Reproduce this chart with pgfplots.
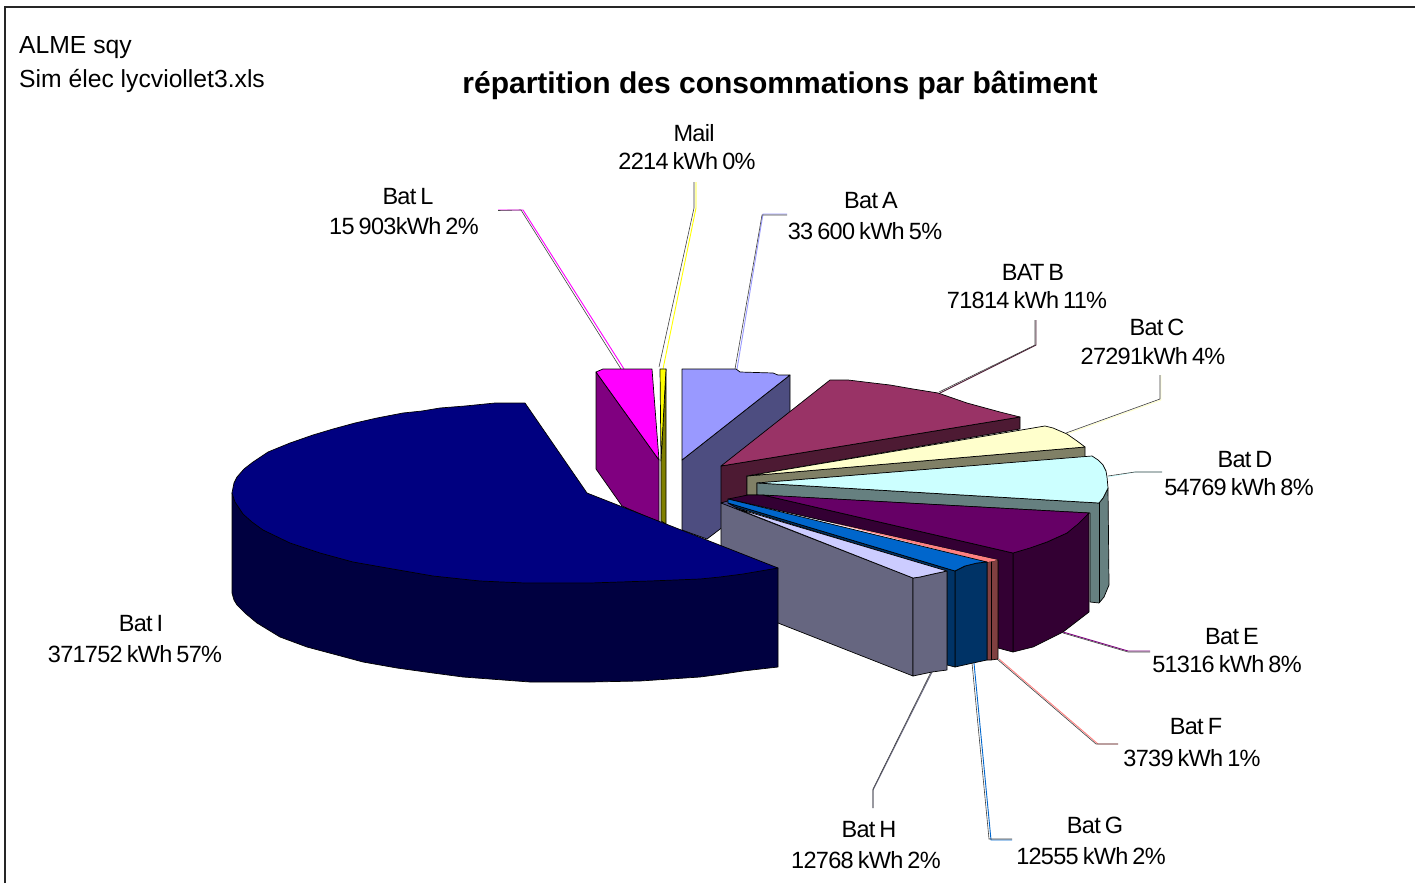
\documentclass[border=0pt]{standalone}
\usepackage{pgfplots}
\pgfplotsset{compat=1.18}
\usepackage{fontspec}
\setmainfont{Liberation Sans}
\newfontfamily\labfam[LetterSpace=-3,WordSpace=0.7]{Liberation Sans}
\newcommand\labfont{\fontsize{23.5}{28}\labfam}
\definecolor{iT}{HTML}{000080}\definecolor{iS}{HTML}{000040}
\definecolor{lT}{HTML}{FF00FF}\definecolor{lS}{HTML}{800080}
\definecolor{mT}{HTML}{FFFF00}\definecolor{mS}{HTML}{808000}
\definecolor{aT}{HTML}{9999FF}\definecolor{aS}{HTML}{4D4D80}
\definecolor{bT}{HTML}{993366}\definecolor{bS}{HTML}{4D1A33}
\definecolor{cT}{HTML}{FFFFCC}\definecolor{cS}{HTML}{808066}
\definecolor{dT}{HTML}{CCFFFF}\definecolor{dS}{HTML}{668080}
\definecolor{eT}{HTML}{660066}\definecolor{eS}{HTML}{330033}
\definecolor{fT}{HTML}{FF8080}\definecolor{fS}{HTML}{804040}
\definecolor{gT}{HTML}{0066CC}\definecolor{gS}{HTML}{003366}
\definecolor{hT}{HTML}{CCCCFF}\definecolor{hS}{HTML}{666680}
\newcommand\lab[3]{\node[anchor=base,inner sep=0pt,font=\labfont] at (axis cs:#1,#2) {#3};}
\newcommand\poly[2]{\addplot[draw=black,line width=0.7pt,fill=#1,line join=round] coordinates {#2} --cycle;}
\newcommand\lead[3]{\addplot[draw=#1,line width=0.9pt] coordinates {#2};\addplot[draw=black!75,line width=0.6pt] coordinates {#3};}
\begin{document}
\begin{tikzpicture}
\useasboundingbox (0,0) rectangle (1415pt,883pt);
\begin{axis}[at={(0,0)},anchor=south west,scale only axis,width=1415pt,height=883pt,
  xmin=0,xmax=1415,ymin=0,ymax=883,y dir=reverse,hide axis,clip=false]
% frame
\addplot[draw=black!85,line width=1.3pt] coordinates {(5,883) (5,7) (1415,7)};
% leaders
\lead{lT}{(624,369) (523,210) (498,210)}{(621,369) (521,210) (498,210.5)}
\lead{mT}{(663,369) (696,208) (696,182)}{(659,367) (694,208) (694,182)}
\lead{aT}{(737,369) (763,214) (787,214)}{(735,369) (762,215) (787,215)}
\lead{bS}{(940,393) (1036,345) (1036,320)}{(939,392) (1035,345) (1035,320)}
\lead{cT}{(1067,434) (1161,400) (1161,375)}{(1066,433) (1160,399) (1160,375)}
\lead{dT}{(1108,477) (1135,472) (1162,472)}{(1108,476) (1135,472) (1162,472)}
\lead{lS}{(1063,632) (1128,651) (1150,651)}{(1063,633) (1128,652) (1150,652)}
\lead{fT}{(999,659) (1098,744) (1118,744)}{(997,659) (1096,744) (1118,744)}
\lead{gT}{(974,663) (991,840) (1012,840)}{(972,663) (989,839) (1012,839)}
\lead{hS}{(932,672) (873,790) (873,808)}{(931,672) (873,789) (873,808)}
% Bat L
\poly{lS}{(596,372) (659,460) (659,522) (622,506) (596,469)}
\poly{lT}{(596,372) (603,369) (652,369) (659,460)}
% Mail
\poly{mS}{(666,369) (661,461) (661,521) (666,524)}
\poly{mT}{(660,369) (666,369) (661,461)}
% Bat A
\poly{aS}{(682,460) (790,375) (790,476) (707,539) (682,530)}
\poly{aT}{(682,369) (736,369) (740,372) (773,373) (778,375) (790,375) (682,460)}
% Bat B
\poly{bS}{(721,466) (1020,417) (1020,429) (747,476) (747,495) (721,503)}
\poly{bT}{(721,466) (830,380) (848,380) (873,383) (890,385) (913,389) (938,393) (967,403) (1000,412) (1020,417)}
% Bat C
\poly{cS}{(747,476) (1085,447) (1085,457) (757,483) (757,495) (747,495)}
\poly{cT}{(747,476) (1045,426) (1053,428) (1067,434) (1077,441) (1085,447)}
% Bat D
\poly{dS}{(757,483) (1099,503) (1103,498) (1108,488) (1109,585) (1104,597) (1099,603) (1090,602) (1090,513) (757,495)}
\addplot[draw=black,line width=0.7pt] coordinates {(1099,503) (1099,603)};
\poly{dT}{(757,483) (1092,456) (1098,460) (1103,465) (1106,471) (1107,477) (1108,488) (1103,498) (1099,503)}
% Bat E
\poly{eS}{(1013,553) (1047,542) (1067,533) (1089,513) (1089,612) (1063,632) (1033,647) (1013,652)}
\poly{eS}{(748,495) (763,495) (1013,553) (1013,652) (998,648) (998,560) (728,499)}
\poly{eT}{(763,495) (1089,513) (1078,524) (1067,533) (1047,542) (1030,548) (1013,553)}
% Bat F
\poly{fS}{(987,562) (998,560) (998,659) (991,660) (987,660)}
\addplot[draw=black,line width=0.7pt] coordinates {(991,561) (991,660)};
\addplot[draw=none,fill=fT] coordinates {(833,523) (998,560) (991,561.5) (987,562)} --cycle;
% Bat G
\poly{gS}{(955,571) (965,566) (977,563) (987,562) (987,660) (973,663) (955,667)}
\poly{gS}{(728,503) (955,571) (955,667) (947,665) (947,571.5) (735,507)}
\poly{gT}{(728,499) (987,562) (977,563) (965,566) (955,571) (728,503)}
% Bat H
\poly{hS}{(721,503) (913,578) (913,676) (778,623) (721,601)}
\poly{hS}{(913,578) (920,577) (933,574) (947,571) (947,670) (932,672) (913,676)}
\poly{hT}{(735,508) (947,571) (933,574) (920,577) (913,578)}
% Bat I
\poly{iS}{(232,493) (232,593) (234,600) (237,605) (245,613) (257,623) (280,637) (307,647) (337,655) (363,662) (397,668) (433,673) (463,677) (490,679) (530,682) (590,682) (640,681) (700,677) (723,674) (743,671) (778,667) (778,568) (500,575)}
\poly{iT}{(525,403) (495,403) (465,406) (440,408) (422,411) (403,413) (377,418) (355,423) (333,429) (313,435) (290,443) (268,452) (253,462) (244,469) (237,477) (234,483) (232,493) (235,502) (243,514) (252,522) (263,530) (290,543) (320,553) (353,562) (387,568) (433,576) (480,581) (525,583) (590,583) (650,581) (700,579) (720,577) (743,574) (778,568) (587,493)}
% texts
\node[anchor=base west,inner sep=0pt,font=\fontsize{24.7}{30}\selectfont] at (axis cs:19,54) {ALME sqy};
\node[anchor=base west,inner sep=0pt,font=\fontsize{24.7}{30}\selectfont] at (axis cs:19,87) {Sim élec lycviollet3.xls};
\node[anchor=base,inner sep=0pt,font=\fontsize{30}{36}\selectfont\bfseries] at (axis cs:780,93) {répartition des consommations par bâtiment};
\lab{694}{141}{Mail}\lab{687}{169}{2214 kWh 0\%}
\lab{408}{204}{Bat L}\lab{404}{234}{15 903kWh 2\%}
\lab{871}{208}{Bat A}\lab{865}{239}{33 600 kWh 5\%}
\lab{1033}{280}{BAT B}\lab{1027}{308}{71814 kWh 11\%}
\lab{1157}{335}{Bat C}\lab{1153}{364}{27291kWh 4\%}
\lab{1245}{467}{Bat D}\lab{1239}{495}{54769 kWh 8\%}
\lab{1232}{644}{Bat E}\lab{1227}{672}{51316 kWh 8\%}
\lab{1196}{734}{Bat F}\lab{1192}{766}{3739 kWh 1\%}
\lab{1095}{833}{Bat G}\lab{1091}{864}{12555 kWh 2\%}
\lab{869}{837}{Bat H}\lab{866}{868}{12768 kWh 2\%}
\lab{141}{631}{Bat I}\lab{135}{662}{371752 kWh 57\%}
\end{axis}
\end{tikzpicture}
\end{document}
